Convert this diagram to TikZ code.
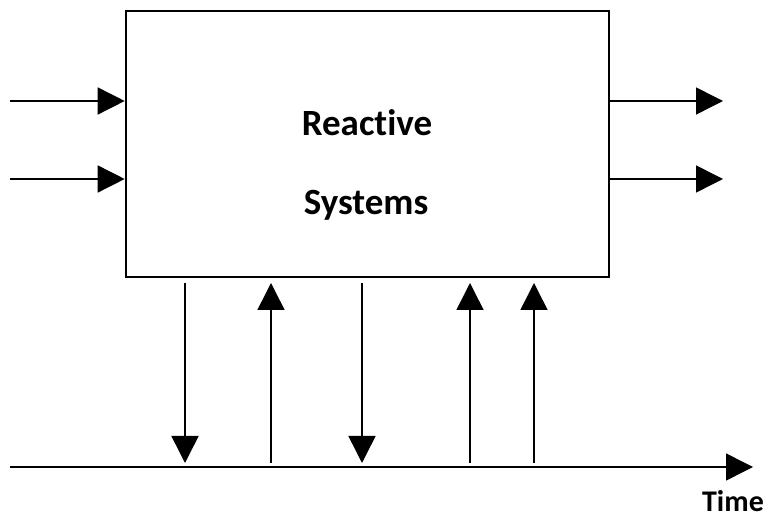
\documentclass[tikz,border=0pt]{standalone}
\usepackage{fontspec}
\setmainfont{Carlito}[Ligatures=NoCommon]
\usepackage{tikz}
\usetikzlibrary{arrows.meta, positioning}
\tikzset{
  systeme/.style={rectangle, draw=black, line width=1.3pt, minimum width=241.5pt,
    minimum height=133pt, inner sep=0pt},
  titre/.style={font=\fontsize{18.5}{22}\selectfont\bfseries, inner sep=0pt, anchor=base},
  etiquette/.style={titre, font=\fontsize{15}{18}\selectfont\bfseries},
  fleche/.style={-{Triangle[length=13.5pt, width=13.5pt]}, line width=0.75pt, color=black},
}

\begin{document}
\begin{tikzpicture}[x=0.5pt, y=-0.5pt]
    \useasboundingbox (0,0) rectangle (766,517);
    \node[systeme] (sys) at (367.5,144) {};
    \node[titre] (l1) at (367,136) {Reactive};
    \node[titre] (l2) at (366,215) {Systems};
    \node[etiquette] (temps) at (733,512) {Time};

    % entrees et sorties
    \coordinate (in1) at (10,101);
    \coordinate (in2) at (10,179);
    \coordinate (out1) at (723,101);
    \coordinate (out2) at (723,179);
    \draw[fleche] (in1) -- (in1 -| sys.west);
    \draw[fleche] (in2) -- (in2 -| sys.west);
    \draw[fleche] (out1 -| sys.east) -- (out1);
    \draw[fleche] (out2 -| sys.east) -- (out2);

    % axe du temps
    \coordinate (t0) at (10,467);
    \coordinate (t1) at (753,467);
    \draw[fleche] (t0) -- (t1);

    % evenements : haut (h) et bas (b) de chaque fleche
    \foreach \x in {185, 271, 362, 470, 534} {
      \coordinate (h\x) at (\x,283);
      \coordinate (b\x) at (\x,463);
    }
    \draw[fleche] (h185) -- (b185);
    \draw[fleche] (b271) -- (h271);
    \draw[fleche] (h362) -- (b362);
    \draw[fleche] (b470) -- (h470);
    \draw[fleche] (b534) -- (h534);
  \end{tikzpicture}
\end{document}
